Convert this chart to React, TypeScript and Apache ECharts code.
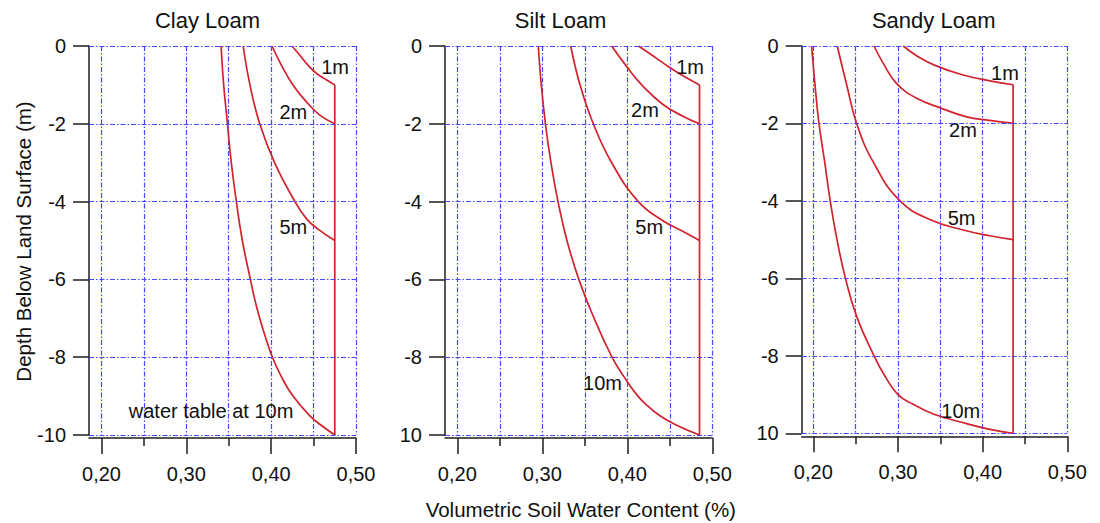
import React, { useEffect, useRef } from 'react';
import * as echarts from 'echarts';

const panelTitles = ['Clay Loam', 'Silt Loam', 'Sandy Loam'];
const yAxisTitle = 'Depth Below Land Surface (m)';
const xAxisTitle = 'Volumetric Soil Water Content (%)';
const depthTicks = [0, -2, -4, -6, -8, -10];

// Clay Loam profiles: [volumetric water content, depth (m)]
const clay1m = [[0.4245, 0], [0.4335, -0.23], [0.4433, -0.49], [0.4532, -0.7], [0.465, -0.87], [0.475, -1]];
const clay2m = [[0.401, 0], [0.412, -0.49], [0.4257, -1.0], [0.4414, -1.43], [0.457, -1.77], [0.475, -2]];
const clay5m = [[0.367, 0], [0.375, -1], [0.3865, -2], [0.404, -3], [0.428, -4], [0.442, -4.45], [0.456, -4.72], [0.475, -5]];
const clay10m = [[0.341, 0], [0.344, -1], [0.3485, -2], [0.353, -3], [0.359, -4], [0.366, -5], [0.3755, -6], [0.3805, -6.5], [0.3865, -7], [0.3935, -7.5], [0.4015, -8], [0.412, -8.5], [0.4257, -9], [0.4453, -9.5], [0.459, -9.75], [0.475, -10]];
const claySat = [[0.475, -1], [0.475, -10]];
const clayLabels = [
  { name: '1m', value: [0.4753, -0.545] },
  { name: '2m', value: [0.4261, -1.69] },
  { name: '5m', value: [0.4261, -4.645] },
  { name: 'water table at 10m', value: [0.3291, -9.38] },
];

// Silt Loam profiles
const silt1m = [[0.413, 0], [0.4267, -0.2], [0.4424, -0.44], [0.462, -0.72], [0.485, -1]];
const silt2m = [[0.3816, 0], [0.3993, -0.53], [0.417, -1], [0.4424, -1.51], [0.466, -1.81], [0.485, -2]];
const silt5m = [[0.3334, 0], [0.3444, -1], [0.36, -2], [0.3816, -3], [0.413, -4], [0.4424, -4.5], [0.464, -4.75], [0.485, -5]];
const silt10m = [[0.2953, 0], [0.2988, -1], [0.3037, -2], [0.3102, -3], [0.3185, -4], [0.329, -5], [0.343, -6], [0.361, -7], [0.382, -8], [0.396, -8.5], [0.4125, -9], [0.424, -9.25], [0.438, -9.5], [0.458, -9.75], [0.485, -10]];
const siltSat = [[0.485, -1], [0.485, -10]];
const siltLabels = [
  { name: '1m', value: [0.4738, -0.545] },
  { name: '2m', value: [0.4208, -1.65] },
  { name: '5m', value: [0.4258, -4.65] },
  { name: '10m', value: [0.3708, -8.67] },
];

// Sandy Loam profiles
const sandy1m = [[0.3063, 0], [0.322, -0.25], [0.3437, -0.5], [0.377, -0.75], [0.4086, -0.9], [0.436, -1]];
const sandy2m = [[0.2717, 0], [0.2827, -0.45], [0.2985, -0.97], [0.3221, -1.35], [0.3516, -1.61], [0.3811, -1.83], [0.408, -1.92], [0.436, -2]];
const sandy5m = [[0.2283, 0], [0.2394, -1], [0.2512, -2], [0.2709, -3], [0.3024, -4], [0.3398, -4.5], [0.377, -4.75], [0.4086, -4.9], [0.436, -5]];
const sandy10m = [[0.198, 0], [0.202, -1], [0.2067, -2], [0.2135, -3], [0.22, -4], [0.228, -5], [0.238, -6], [0.2515, -7], [0.2717, -8], [0.284, -8.5], [0.3, -9], [0.318, -9.25], [0.3417, -9.5], [0.381, -9.75], [0.4086, -9.9], [0.436, -10]];
const sandySat = [[0.436, -1], [0.436, -10]];
const sandyLabels = [
  { name: '1m', value: [0.4263, -0.705] },
  { name: '2m', value: [0.3767, -2.16] },
  { name: '5m', value: [0.3752, -4.43] },
  { name: '10m', value: [0.3742, -9.42] },
];

const FONT = '"Liberation Sans", Arial, Helvetica, sans-serif';
const AXIS = '#1e1e1e';
const TEXT = '#111111';
const RED = '#d0232e';
const GRIDBLUE = '#4646ff';
const gridLine = () => ({ color: GRIDBLUE, width: 1.2, type: [5, 2, 1.5, 2], opacity: 1 });

const fmtFull = (v: number) => String(Math.round(v));
const fmtCut = (v: number) => (Math.round(v) === -10 ? '10' : String(Math.round(v)));

const panels = [
  { title: panelTitles[0], titleX: 207.5, yAxisX: 89, x020: 101.5, x050: 356, top: 46, bottom: 435,
    curves: [clay1m, clay2m, clay5m, clay10m, claySat], labels: clayLabels, yFmt: fmtFull },
  { title: panelTitles[1], titleX: 560.6, yAxisX: 445, x020: 457.3, x050: 712.3, top: 46, bottom: 435,
    curves: [silt1m, silt2m, silt5m, silt10m, siltSat], labels: siltLabels, yFmt: fmtCut },
  { title: panelTitles[2], titleX: 933.7, yAxisX: 801.7, x020: 813.3, x050: 1067.3, top: 46, bottom: 433.3,
    curves: [sandy1m, sandy2m, sandy5m, sandy10m, sandySat], labels: sandyLabels, yFmt: fmtCut },
];

export default function App() {
  const ref = useRef<HTMLDivElement>(null);
  useEffect(() => {
    const chart = echarts.init(ref.current!, null, { renderer: 'svg' });
    const grid: any[] = [];
    const xAxis: any[] = [];
    const yAxis: any[] = [];
    const series: any[] = [];
    const graphic: any[] = [];

    panels.forEach((p, i) => {
      const a = i * 2;
      const b = i * 2 + 1;
      const pxPerUnit = (p.x050 - p.x020) / 0.3;
      const h = p.bottom - p.top;
      grid.push({ left: p.yAxisX, top: p.top, width: p.x050 - p.yAxisX, height: h });
      grid.push({ left: p.x020, top: p.top, width: p.x050 - p.x020, height: h });

      xAxis.push({
        type: 'value', gridIndex: a, min: 0.5 - (p.x050 - p.yAxisX) / pxPerUnit, max: 0.5, offset: 3,
        axisLine: { show: true, onZero: false, lineStyle: { color: AXIS, width: 1.5 } },
        axisTick: { show: false }, axisLabel: { show: false }, splitLine: { show: false },
      });
      xAxis.push({
        type: 'value', gridIndex: b, min: 0.2, max: 0.5, interval: 0.1, offset: 3,
        axisLine: { show: false, onZero: false },
        axisTick: { show: true, length: 16, lineStyle: { color: AXIS, width: 1.5 } },
        minorTick: { show: true, splitNumber: 2, length: 8, lineStyle: { color: AXIS, width: 1.5 } },
        axisLabel: {
          show: true, margin: 36, verticalAlign: 'middle', fontSize: 20, fontFamily: FONT, color: TEXT,
          formatter: (v: number) => v.toFixed(2).replace('.', ','),
        },
        splitLine: { show: true, lineStyle: gridLine() },
        minorSplitLine: { show: true, lineStyle: gridLine() },
      });
      yAxis.push({
        type: 'value', gridIndex: a, min: -10, max: 0, interval: 2,
        axisLine: { show: true, onZero: false, lineStyle: { color: AXIS, width: 1.5 } },
        axisTick: { show: true, length: 16, lineStyle: { color: AXIS, width: 1.5 } },
        axisLabel: { show: true, margin: 23, fontSize: 20, fontFamily: FONT, color: TEXT, formatter: p.yFmt },
        splitLine: { show: false },
      });
      yAxis.push({ type: 'value', gridIndex: b, min: -10, max: 0, show: false });

      // horizontal dash-dot grid lines spanning from the depth axis to 0,50
      series.push({
        type: 'line', xAxisIndex: a, yAxisIndex: a, data: [], silent: true, z: 1,
        markLine: {
          silent: true, symbol: ['none', 'none'], label: { show: false }, animation: false,
          lineStyle: gridLine(),
          emphasis: { disabled: true },
          data: depthTicks.map((d) => ({ yAxis: d })),
        },
      });

      p.curves.forEach((c) => {
        series.push({
          type: 'line', xAxisIndex: a, yAxisIndex: a, data: c, showSymbol: false, symbol: 'none',
          smooth: 0.45, silent: true, z: 3,
          lineStyle: { color: RED, width: 1.7 },
        });
      });
      series.push({
        type: 'scatter', xAxisIndex: a, yAxisIndex: a, data: p.labels, symbolSize: 0.1, silent: true, z: 4,
        itemStyle: { color: 'rgba(0,0,0,0)' },
        label: {
          show: true, position: 'inside', formatter: '{b}', fontSize: 20, fontFamily: FONT, color: TEXT,
          textBorderWidth: 0, opacity: 1,
        },
      });

      graphic.push({
        type: 'text', x: p.titleX, y: 20,
        style: { text: p.title, fontSize: 22, fontFamily: FONT, fill: TEXT, align: 'center', verticalAlign: 'middle' },
      });
    });

    graphic.push({
      type: 'text', x: 23, y: 241.5, rotation: Math.PI / 2,
      style: { text: yAxisTitle, fontSize: 20.5, fontFamily: FONT, fill: TEXT, align: 'center', verticalAlign: 'middle' },
    });
    graphic.push({
      type: 'text', x: 580.8, y: 509,
      style: { text: xAxisTitle, fontSize: 20.5, fontFamily: FONT, fill: TEXT, align: 'center', verticalAlign: 'middle' },
    });

    chart.setOption({
      animation: false,
      backgroundColor: '#ffffff',
      grid, xAxis, yAxis, series, graphic,
    });
    return () => chart.dispose();
  }, []);
  return <div ref={ref} style={{ position: 'fixed', left: 0, top: 0, width: 1100, height: 523 }} />;
}
